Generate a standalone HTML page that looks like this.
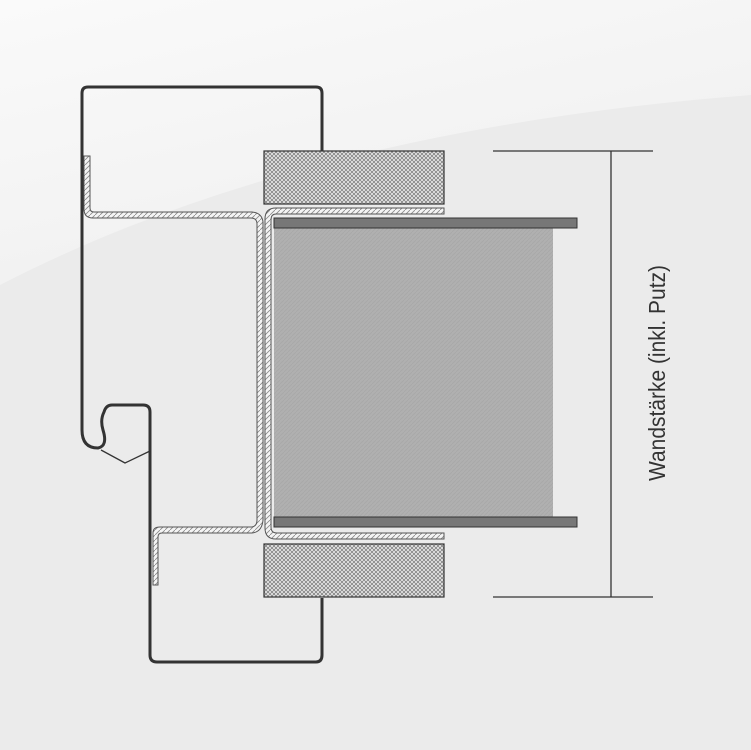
<!DOCTYPE html>
<html><head><meta charset="utf-8"><style>html,body{margin:0;padding:0;width:751px;height:750px;overflow:hidden;background:#ebebeb}</style></head>
<body>
<svg width="751" height="750" viewBox="0 0 751 750" xmlns="http://www.w3.org/2000/svg">
<defs>
<linearGradient id="bg" x1="0" y1="0" x2="0.6" y2="1"><stop offset="0" stop-color="#fafafa"/><stop offset="1" stop-color="#efefef"/></linearGradient>
<pattern id="cross" width="4" height="4" patternUnits="userSpaceOnUse"><rect width="4" height="4" fill="#e2e2e2"/><path d="M0 0L4 4M4 0L0 4" stroke="#666" stroke-width="0.6"/></pattern>
<pattern id="hatch" width="5" height="5" patternUnits="userSpaceOnUse"><rect width="5" height="5" fill="#f4f4f4"/><path d="M0 5L5 0" stroke="#888" stroke-width="0.8"/></pattern>
<pattern id="wall" width="4" height="4" patternUnits="userSpaceOnUse"><rect width="4" height="4" fill="#b0b0b0"/><path d="M0 4L4 0" stroke="#a8a8a8" stroke-width="0.8"/></pattern>
</defs>
<rect width="751" height="750" fill="#ebebeb"/>
<path d="M0 0H751V95Q300 130 0 285Z" fill="url(#bg)"/>
<g fill="none" stroke="#333" stroke-width="3" stroke-linejoin="round">
<path d="M82 430V93Q82 87 88 87H316Q322 87 322 93V152"/>
<path d="M82 430Q82 448 98 448Q108 446 103 430Q100 420 104 412Q106 405 112 405H143Q150 405 150 412V655Q150 662 157 662H316Q322 662 322 655V598"/>
</g>
<path d="M101 450L125 463L150 451" fill="none" stroke="#333" stroke-width="1.3"/>
<rect x="264" y="151" width="180" height="53" fill="url(#cross)" stroke="#333" stroke-width="1.2"/>
<rect x="264" y="544" width="180" height="53" fill="url(#cross)" stroke="#333" stroke-width="1.2"/>
<g fill="url(#hatch)" stroke="#555" stroke-width="1">
<path d="M84 156H90V208Q90 212 94 212H252Q262 213 263 222V520Q262 532 252 533H162Q158 533 158 537V585H153V533Q153 527 160 527H252Q257 526 257 520V224Q257 218 251 218H93Q84 218 84 209Z"/>
<path d="M444 208V214H276Q271 214 271 220V527Q271 533 277 533H444V539H276Q265 539 265 528V219Q265 208 276 208Z"/>
</g>
<rect x="274" y="228" width="279" height="289" fill="url(#wall)"/>
<rect x="274" y="218" width="303" height="10" fill="#777" stroke="#333" stroke-width="1"/>
<rect x="274" y="517" width="303" height="10" fill="#777" stroke="#333" stroke-width="1"/>
<g stroke="#333" stroke-width="1.3">
<line x1="493" y1="151" x2="653" y2="151"/>
<line x1="493" y1="597" x2="653" y2="597"/>
<line x1="611" y1="151" x2="611" y2="597"/>
</g>
<text x="0" y="0" transform="translate(665,373) rotate(-90)" text-anchor="middle" font-family="Liberation Sans, sans-serif" font-size="23" fill="#333" textLength="216" lengthAdjust="spacingAndGlyphs">Wandstärke (inkl. Putz)</text>
</svg>
</body></html>
